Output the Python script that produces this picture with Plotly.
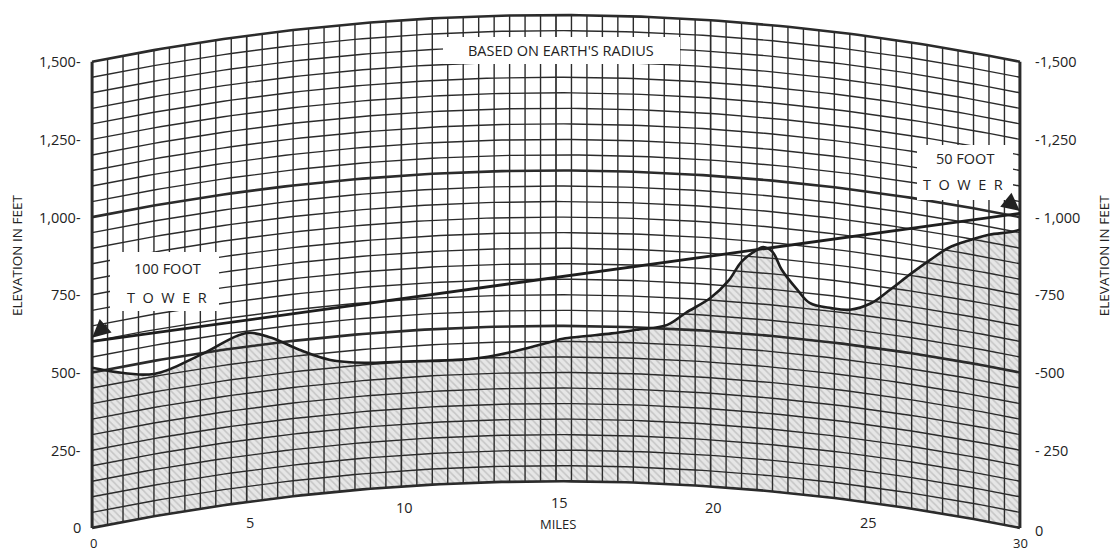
import numpy as np
import plotly.graph_objects as go

# terrain profile (miles from the 100 ft tower, feet above sea level)
profile_miles = [0, 2.0, 3.5, 5.0, 5.8, 6.7, 7.7, 8.8, 9.9, 10.9, 12.0, 12.8, 13.6, 14.7, 15.3, 16.0,
                 16.8, 17.6, 18.6, 19.2, 20.0, 20.6, 21.0, 21.5, 21.7, 22.0, 22.3, 22.8, 23.2, 23.9,
                 24.5, 25.2, 25.8, 26.5, 27.1, 27.7, 28.4, 29.0, 29.7, 30]
profile_feet = [515, 458, 495, 544, 518, 469, 426, 407, 402, 398, 397, 404, 418, 445, 460, 468,
                478, 492, 512, 554, 607, 669, 731, 773, 784, 771, 716, 657, 619, 610,
                612, 643, 694, 758, 810, 859, 896, 924, 946, 959]

# radio path between the two tower tops
path_miles = [0, 30]
path_feet = [600, 1012]

mile_ticks = [0, 5, 10, 15, 20, 25, 30]
mile_labels = ["0", "5", "10", "15", "20", "25", "30"]
feet_ticks = [0, 250, 500, 750, 1000, 1250, 1500]
left_labels = ["0", "250-", "500-", "750-", "1,000-", "1,250-", "1,500-"]
right_labels = ["0", "- 250", "-500", "-750", "- 1,000", "-1,250", "-1,500"]

SPAN = 30.0
TOP = 1500
FONT = "Open Sans"
INK = "#222222"


def bulge(d):
    # earth curvature in feet (true radius): h = d1 * d2 / 1.5
    d = np.asarray(d, dtype=float)
    return d * (SPAN - d) / 1.5


fig = go.Figure()

# shaded ground under the profile
xs = np.linspace(0, SPAN, 121)
fig.add_trace(go.Scatter(x=xs, y=bulge(xs), mode="lines", line=dict(width=0),
                         hoverinfo="skip", showlegend=False))
prof_x = np.array(profile_miles)
prof_y = np.array(profile_feet) + bulge(prof_x)
fig.add_trace(go.Scatter(
    x=prof_x, y=prof_y, mode="lines", line=dict(width=0, shape="spline"),
    fill="tonexty", fillcolor="#e2e2e2",
    fillpattern=dict(shape="\\", fgcolor="#a4a4a4", bgcolor="#e6e6e6", size=5, solidity=0.3),
    hoverinfo="skip", showlegend=False))


# curved grid: elevation lines every 50 ft, distance lines every half mile
def hlines(levels):
    gx, gy = [], []
    for e in levels:
        gx += list(xs) + [None]
        gy += list(e + bulge(xs)) + [None]
    return gx, gy


def vlines(miles):
    gx, gy = [], []
    for m in miles:
        b = float(bulge(m))
        gx += [m, m, None]
        gy += [b, b + TOP, None]
    return gx, gy


thin_h = [e for e in range(0, TOP + 1, 50) if e % 500]
thick_h = [e for e in range(0, TOP + 1, 500)]
thin_v = [m / 2 for m in range(0, 61) if m % 10]
mid_v = [5, 10, 15, 20, 25]
edge_v = [0, 30]

for (gx, gy), w in [(hlines(thin_h), 1.4), (vlines(thin_v), 1.4), (vlines(mid_v), 1.7),
                    (hlines(thick_h), 2.6), (vlines(edge_v), 3.0)]:
    fig.add_trace(go.Scatter(x=gx, y=gy, mode="lines", line=dict(color="#2b2b2b", width=w),
                             hoverinfo="skip", showlegend=False))

# profile line and path line
fig.add_trace(go.Scatter(x=prof_x, y=prof_y, mode="lines",
                         line=dict(color="#1e1e1e", width=2.6, shape="spline"),
                         hoverinfo="skip", showlegend=False))
fig.add_trace(go.Scatter(x=path_miles, y=np.array(path_feet) + bulge(path_miles), mode="lines",
                         line=dict(color="#1e1e1e", width=2.8),
                         hoverinfo="skip", showlegend=False))

lab = dict(size=14.5, color=INK, family=FONT)
ann = []
for v, t in zip(feet_ticks, left_labels):
    ann.append(dict(x=0, y=v, xref="x", yref="y", text=t, showarrow=False,
                    xanchor="right", xshift=-9, font=lab))
for v, t in zip(feet_ticks, right_labels):
    ann.append(dict(x=SPAN, y=v, xref="x", yref="y", text=t, showarrow=False,
                    xanchor="left", xshift=13, yshift=-3 if v == 0 else 0, font=lab))
for m, t in zip(mile_ticks, mile_labels):
    edge = m in (0, 30)
    ann.append(dict(x=m, y=float(bulge(m)), xref="x", yref="y", text=t, showarrow=False,
                    xanchor="center", yshift=-15 if edge else -21, xshift=1 if edge else 3,
                    font=dict(size=13 if edge else 14.5, color=INK, family=FONT)))
ann.append(dict(x=15, y=float(bulge(15)), xref="x", yref="y", text="MILES", showarrow=False,
                xanchor="center", yshift=-43, xshift=2, font=dict(size=13, color=INK, family=FONT)))

for xp, tx in [(-0.077, "ELEVATION IN FEET"), (1.087, "ELEVATION IN FEET")]:
    ann.append(dict(x=xp, y=0.53, xref="paper", yref="paper", text=tx, showarrow=False,
                    xanchor="center", yanchor="middle", textangle=-90,
                    font=dict(size=13.5, color=INK, family=FONT)))

note = dict(size=14.5, color=INK, family=FONT)
ann += [
    dict(x=0.505, y=0.925, xref="paper", yref="paper", text="BASED ON EARTH'S RADIUS",
         xanchor="center", yanchor="middle", showarrow=False, font=note),
    dict(x=0.084, y=0.506, xref="paper", yref="paper", text="100 FOOT",
         xanchor="center", yanchor="middle", showarrow=False, font=note),
    dict(x=0.084, y=0.45, xref="paper", yref="paper", text="T  O  W  E  R",
         xanchor="center", yanchor="middle", showarrow=False, font=note),
    dict(x=0.938, y=0.718, xref="paper", yref="paper", text="50 FOOT",
         xanchor="center", yanchor="middle", showarrow=False, font=note),
    dict(x=0.936, y=0.668, xref="paper", yref="paper", text="T  O  W  E  R",
         xanchor="center", yanchor="middle", showarrow=False, font=note),
    dict(x=path_miles[0], y=path_feet[0] + 12, xref="x", yref="y", ax=16, ay=-14,
         showarrow=True, arrowhead=2, arrowsize=1.5, arrowwidth=2.4, arrowcolor=INK, text=""),
    dict(x=path_miles[1], y=path_feet[1] + 8, xref="x", yref="y", ax=-15, ay=-12,
         showarrow=True, arrowhead=2, arrowsize=1.5, arrowwidth=2.4, arrowcolor=INK, text=""),
]


def box(x0, y0, x1, y1):
    # pixel box -> paper rect (plot area: x 89..1023, y 12..531)
    return dict(type="rect", xref="paper", yref="paper", layer="above",
                x0=(x0 - 89) / 934, x1=(x1 - 89) / 934,
                y0=(531 - y1) / 519, y1=(531 - y0) / 519,
                fillcolor="white", line=dict(width=0))


fig.update_layout(
    width=1113, height=553,
    margin=dict(l=89, r=90, t=12, b=22),
    paper_bgcolor="white", plot_bgcolor="white",
    xaxis=dict(range=[-0.1, 30.1], visible=False, fixedrange=True),
    yaxis=dict(range=[-10, 1660], visible=False, fixedrange=True),
    annotations=ann,
    shapes=[box(443, 37, 680, 64), box(110, 252, 219, 311), box(917, 145, 1013, 200)],
    showlegend=False,
)

# the page body has a default 8px margin; drop it so the figure fills the window
fig.write_html("out.html", config={"displayModeBar": False},
               post_script="document.body.style.margin='0';")
